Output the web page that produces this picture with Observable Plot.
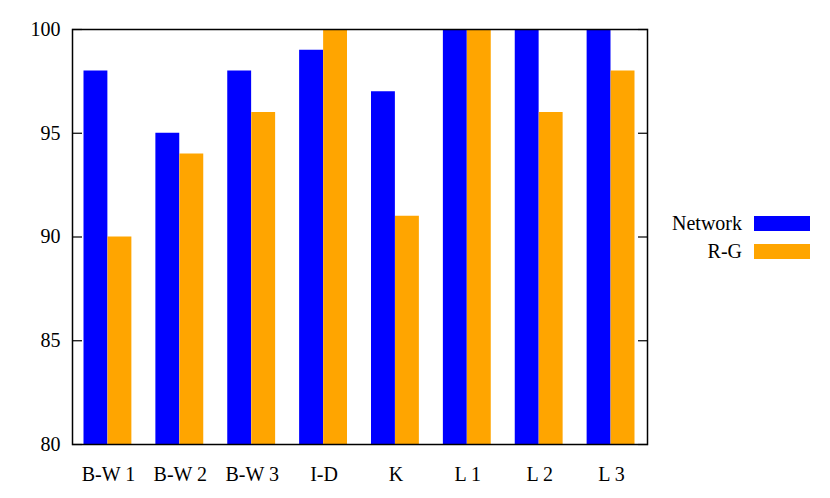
<!DOCTYPE html>
<html>
<head>
<meta charset="utf-8">
<script src="https://cdn.jsdelivr.net/npm/d3@7"></script>
<script src="https://cdn.jsdelivr.net/npm/@observablehq/plot@0.6"></script>
<style>
  html, body { margin: 0; padding: 0; background: #fff; }
  #wrap { position: relative; width: 830px; height: 498px; font-family: "Liberation Serif", "Times New Roman", Times, serif; }
  #wrap svg text { font-family: "Liberation Serif", "Times New Roman", Times, serif; }
  #legend { position: absolute; left: 640px; top: 209px; font-size: 20px; color: #000; }
  .row { display: flex; align-items: center; justify-content: flex-end; height: 28px; }
  .row span { display: inline-block; width: 102px; text-align: right; margin-right: 12px; }
  .sw { display: inline-block; width: 56px; height: 15px; }
</style>
</head>
<body>
<div id="wrap"></div>
<script>
const categories = ["B-W 1", "B-W 2", "B-W 3", "I-D", "K", "L 1", "L 2", "L 3"];
const networkValues = [98, 95, 98, 99, 97, 100, 100, 100];
const rgValues = [90, 94, 96, 100, 91, 100, 96, 98];
const seriesNames = ["Network", "R-G"];
const seriesColors = ["#0000ff", "#ffa500"];
const yTicks = [80, 85, 90, 95, 100];

const networkData = categories.map((c, i) => ({category: c, value: networkValues[i]}));
const rgData = categories.map((c, i) => ({category: c, value: rgValues[i]}));

const chart = Plot.plot({
  width: 830,
  height: 498,
  marginLeft: 72,
  marginRight: 183,
  marginTop: 29,
  marginBottom: 54,
  style: {fontFamily: "Liberation Serif, Times New Roman, serif", fontSize: "20px", color: "#000", background: "#fff"},
  x: {domain: categories, padding: 0, round: false, label: null},
  y: {domain: [80, 100], label: null},
  marks: [
    Plot.barY(networkData, {x: "category", y1: 80, y2: "value", fill: seriesColors[0], insetLeft: 11.5, insetRight: 36.5}),
    Plot.barY(rgData, {x: "category", y1: 80, y2: "value", fill: seriesColors[1], insetLeft: 35.5, insetRight: 12.5}),
    Plot.axisX({tickSize: 0, tickPadding: 22, fontSize: 20}),
    Plot.axisY({anchor: "left", ticks: yTicks, tickSize: -10, tickPadding: 22, fontSize: 20, strokeWidth: 1.2}),
    Plot.axisY({anchor: "right", ticks: yTicks, tickSize: -10, tickFormat: () => "", strokeWidth: 1.2}),
    Plot.frame({stroke: "#000", strokeWidth: 1.5})
  ]
});

const wrap = document.getElementById("wrap");
wrap.appendChild(chart);

const legend = document.createElement("div");
legend.id = "legend";
seriesNames.forEach((name, i) => {
  const row = document.createElement("div");
  row.className = "row";
  const label = document.createElement("span");
  label.textContent = name;
  const sw = document.createElement("div");
  sw.className = "sw";
  sw.style.background = seriesColors[i];
  row.appendChild(label);
  row.appendChild(sw);
  legend.appendChild(row);
});
wrap.appendChild(legend);
</script>
</body>
</html>
